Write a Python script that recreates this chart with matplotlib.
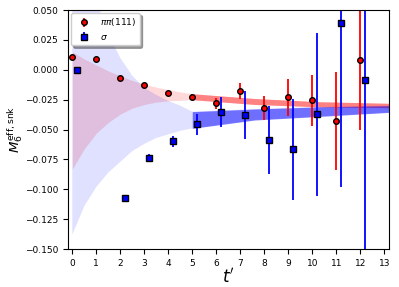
import numpy as np
import matplotlib
matplotlib.use("Agg")
import matplotlib.pyplot as plt

# pipi(111) effective mass points
t_pp = [0, 1, 2, 3, 4, 5, 6, 7, 8, 9, 10, 11, 12]
m_pp = [0.011, 0.0087, -0.0066, -0.0128, -0.0197, -0.0225, -0.028, -0.0175, -0.0317, -0.0231, -0.0256, -0.0429, 0.0082]
e_pp = [0.001, 0.001, 0.001, 0.0012, 0.0015, 0.002, 0.0045, 0.0065, 0.010, 0.0158, 0.0213, 0.0413, 0.0586]

# sigma effective mass points (shifted by 0.2 in t)
t_sg = [0.2, 2.2, 3.2, 4.2, 5.2, 6.2, 7.2, 8.2, 9.2, 10.2, 11.2, 12.2]
m_sg = [0.0, -0.107, -0.0738, -0.0599, -0.0457, -0.0354, -0.0381, -0.0588, -0.0666, -0.0373, 0.0389, -0.0083]
e_sg = [0.001, 0.0024, 0.003, 0.0045, 0.009, 0.0123, 0.020, 0.0285, 0.0424, 0.068, 0.137, 0.18]

# fit bands, edges
t_band = [0, 0.5, 1, 1.5, 2, 2.5, 3, 3.5, 4, 4.5, 5, 7.6, 10.3, 13.2]
pp_hi = [0.015, 0.009, 0.004, -0.001, -0.005, -0.009, -0.012, -0.0145, -0.0165, -0.0185, -0.020, -0.024, -0.0267, -0.028]
pp_lo = [-0.083, -0.066, -0.053, -0.044, -0.037, -0.032, -0.029, -0.027, -0.026, -0.0255, -0.025, -0.029, -0.031, -0.0317]
sg_hi = [0.22, 0.11, 0.058, 0.030, 0.010, -0.005, -0.015, -0.021, -0.026, -0.030, -0.035, -0.0328, -0.031, -0.030]
sg_lo = [-0.138, -0.114, -0.098, -0.086, -0.077, -0.068, -0.062, -0.057, -0.054, -0.051, -0.049, -0.042, -0.039, -0.0356]
fit_start = 5

t_band = np.array(t_band)
fit = t_band >= fit_start

fig = plt.figure(figsize=(3.99, 2.87), dpi=100)
ax = fig.add_axes([0.171, 0.132, 0.804, 0.833])

ax.fill_between(t_band, pp_lo, pp_hi, color='red', alpha=0.15, lw=0)
ax.fill_between(t_band, sg_lo, sg_hi, color='blue', alpha=0.12, lw=0)
ax.fill_between(t_band[fit], np.array(pp_lo)[fit], np.array(pp_hi)[fit], color='red', alpha=0.4, lw=0)
ax.fill_between(t_band[fit], np.array(sg_lo)[fit], np.array(sg_hi)[fit], color='blue', alpha=0.5, lw=0)

ax.errorbar(t_pp, m_pp, yerr=e_pp, fmt='o', color='red', ecolor='red',
            mfc='red', mec='black', ms=4, elinewidth=1.3, label=r'$\pi\pi(111)$')
ax.errorbar(t_sg, m_sg, yerr=e_sg, fmt='s', color='blue', ecolor='blue',
            mfc='blue', mec='black', ms=4.5, elinewidth=1.3, label=r'$\sigma$')

ax.set_xlim(-0.17, 13.2)
ax.set_ylim(-0.15, 0.05)
ax.set_xticks(range(14))
ax.set_yticks(np.arange(-0.15, 0.051, 0.025))
ax.tick_params(labelsize=6.5)
ax.set_xlabel(r"$t'$", fontsize=12, labelpad=0)
ax.set_ylabel(r'$M_6^{\mathrm{eff,snk}}$', fontsize=9.5)
ax.yaxis.set_label_coords(-0.135, 0.5)

ax.legend(loc='upper left', fontsize=6.5, shadow=True, borderaxespad=0.3)

fig.savefig('out.png', dpi=100)
